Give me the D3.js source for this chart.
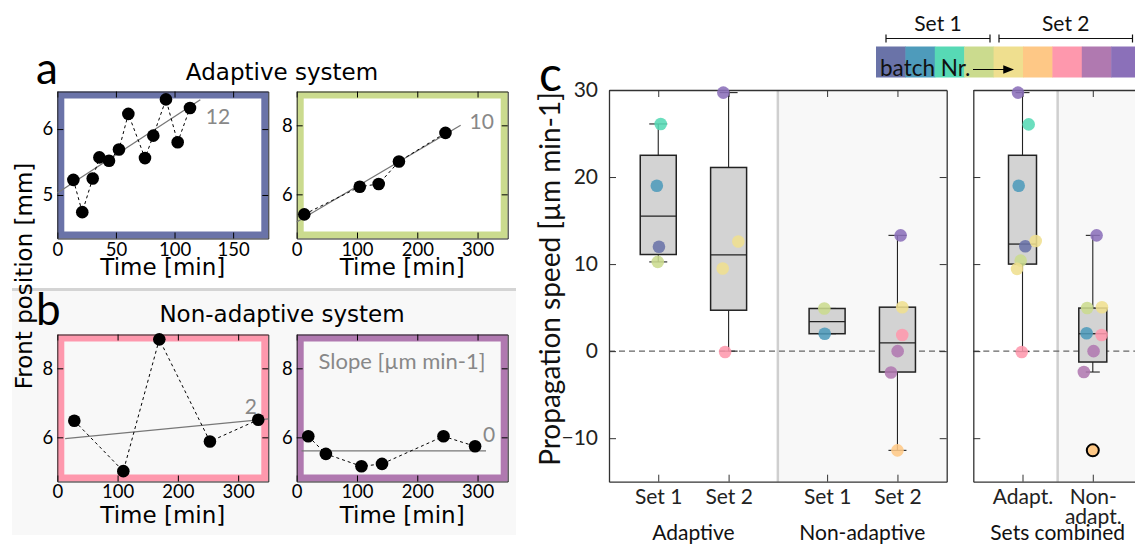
<!DOCTYPE html>
<html>
<head>
<meta charset="utf-8">
<script src="https://cdn.jsdelivr.net/npm/d3@7"></script>
<style>
body { margin:0; background:#fff; }
svg text { font-family: Lato, "Noto Sans", sans-serif; }
svg .dv { font-family: "DejaVu Sans", sans-serif; }
</style>
</head>
<body>
<div id="fig"></div>
<script>
// batch colours (batch Nr. 1..9)
var batchNr = [1,2,3,4,5,6,7,8,9]
var batchColors = ["#6a73a8","#4e9bbb","#57d9b5","#cbdb8e","#efdf8f","#fec886","#fe98ad","#b079b0","#8b70b9"]

// a / b : front position [mm] vs time [min]
var a1Time  = [13.7,21.3,30.2,35.9,44.1,52.6,60.6,74.8,81.9,92.7,102.7,113.2]
var a1Front = [5.23,4.74,5.25,5.57,5.52,5.69,6.23,5.56,5.90,6.45,5.80,6.32]
var a2Time  = [12.6,104.6,136,169.6,246.8]
var a2Front = [5.42,6.22,6.30,6.95,7.78]
var b1Time  = [28.2,109.5,169.2,253.2,333.3]
var b1Front = [6.48,5.02,8.84,5.88,6.51]
var b2Time  = [19.2,48.4,107.4,141.5,243.5,295.9]
var b2Front = [6.03,5.52,5.16,5.23,6.03,5.74]

// linear fits (intercept mm, slope mm/min, drawn time range) + slope labels
var fitIntercept = [5.03, 5.20, 5.938, 5.61]
var fitSlope     = [0.0116, 0.0103, 0.0017, 0.0]
var fitFrom      = [0, 0, 13, 8]
var fitTo        = [122, 272, 350, 314]
var slopeLabel   = ["12","10","2","0"]
var panelBatch   = [1,4,7,8]

// c : propagation speed boxplots
var groupLabel = ["Set 1","Set 2","Set 1","Set 2","Adapt.","Non-\nadapt."]
var boxLow  = [10.25, 0.0, 2.0, -11.4, -0.05, -2.4]
var boxQ1   = [11.1, 4.7, 2.0, -2.4, 10.0, -1.25]
var boxMed  = [15.5, 11.05, 3.4, 0.95, 12.3, 2.0]
var boxQ3   = [22.5, 21.1, 4.9, 5.05, 22.5, 4.95]
var boxHigh = [26.1, 29.7, 4.9, 13.3, 29.7, 13.3]

var speedGroup  = [0,0,0,0, 1,1,1,1, 2,2, 3,3,3,3,3,3, 4,4,4,4,4,4,4,4, 5,5,5,5,5,5,5,5]
var speedBatch  = [3,2,1,4, 9,5,5,7, 4,2, 5,7,8,8,9,6, 9,3,2,1,5,4,5,7, 9,4,5,2,7,8,8,6]
var speedValue  = [26.1,19.0,12.0,10.25, 29.7,12.6,9.5,-0.1, 4.9,2.0,
                   5.05,1.85,0.0,-2.45,13.3,-11.4,
                   29.7,26.05,19.0,12.05,12.65,10.4,9.45,-0.1,
                   13.3,4.95,5.05,2.05,1.85,0.0,-2.4,-11.4]
var speedJitter = [0.035,-0.02,0.01,-0.007, -0.075,0.138,-0.084,-0.05, -0.04,-0.034,
                   0.068,0.068,0.003,-0.092,0.045,0,
                   -0.064,0.088,-0.054,0.04,0.188,-0.026,-0.078,-0.011,
                   0.054,-0.08,0.13,-0.088,0.125,0.011,-0.127,0]
var outlierGroup = [5]
var outlierValue = [-11.4]

var svg = d3.select("#fig").append("svg").attr("width",1135).attr("height",544)

function batchColor(b){ return batchColors[batchNr.indexOf(b)] }

// ---------- panels a / b ----------
svg.append("rect").attr("x",12).attr("y",291).attr("width",504).attr("height",244).attr("fill","#f8f8f8")
svg.append("line").attr("x1",12).attr("x2",516).attr("y1",289.5).attr("y2",289.5)
  .attr("stroke","#d4d4d4").attr("stroke-width",3)

var traces = [
  {t:a1Time, v:a1Front, l:57.3, r:268.3, top:91.5, bot:238.5, xd:[0,180], yd:[4.34,6.57], xt:[0,50,100,150], yt:[5,6], lab:[137,6.19], pad:4, tl:36},
  {t:a2Time, v:a2Front, l:296.7, r:507.7, top:91.5, bot:238.5, xd:[0,350], yd:[4.72,8.98], xt:[0,100,200,300], yt:[6,8], lab:[307,8.1], pad:4, tl:36},
  {t:b1Time, v:b1Front, l:57.3, r:268.3, top:334.5, bot:481.5, xd:[0,350], yd:[4.72,8.98], xt:[0,100,200,300], yt:[6,8], lab:[321,6.89], pad:3, tl:41.5},
  {t:b2Time, v:b2Front, l:296.7, r:507.7, top:334.5, bot:481.5, xd:[0,350], yd:[4.72,8.98], xt:[0,100,200,300], yt:[6,8], lab:[319,6.07], pad:3, tl:41.5}
]

traces.forEach(function(p,i){
  var x = d3.scaleLinear().domain(p.xd).range([p.l,p.r])
  var y = d3.scaleLinear().domain(p.yd).range([p.bot,p.top])
  var g = svg.append("g")
  // coloured frame for the batch
  g.append("rect").attr("x",p.l+3.5).attr("y",p.top+3.5)
    .attr("width",p.r-p.l-7).attr("height",p.bot-p.top-7)
    .attr("fill","none").attr("stroke",batchColor(panelBatch[i])).attr("stroke-width",7)

  var axes = [
    [d3.axisBottom(x), "translate(0,"+p.bot+")", p.xt, true, p.pad],
    [d3.axisTop(x), "translate(0,"+p.top+")", p.xt, false, 4],
    [d3.axisLeft(y), "translate("+p.l+",0)", p.yt, true, 4],
    [d3.axisRight(y), "translate("+p.r+",0)", p.yt, false, 4]
  ]
  axes.forEach(function(a){
    var ax = a[0].tickValues(a[2]).tickSizeInner(-6).tickSizeOuter(0).tickPadding(a[4]).tickFormat(d3.format("d"))
    if(!a[3]) ax.tickFormat("")
    g.append("g").attr("transform",a[1]).call(ax)
      .attr("font-size",18.5).attr("font-family",null).attr("class","dv")
      .call(function(s){ s.select(".domain").attr("stroke","#222") ; s.selectAll("text").attr("fill","#000") })
  })

  // fitted line
  g.append("line")
    .attr("x1",x(fitFrom[i])).attr("y1",y(fitIntercept[i]+fitSlope[i]*fitFrom[i]))
    .attr("x2",x(fitTo[i])).attr("y2",y(fitIntercept[i]+fitSlope[i]*fitTo[i]))
    .attr("stroke","#777").attr("stroke-width",1.3)

  var pts = p.t.map(function(d,k){ return [d,p.v[k]] })
  g.append("path").datum(pts)
    .attr("d", d3.line().x(function(d){return x(d[0])}).y(function(d){return y(d[1])}))
    .attr("fill","none").attr("stroke","#000").attr("stroke-width",1).attr("stroke-dasharray","3,3")
  g.selectAll("circle").data(pts).enter().append("circle")
    .attr("cx",function(d){return x(d[0])}).attr("cy",function(d){return y(d[1])})
    .attr("r",6.3).attr("fill","#000")

  g.append("text").attr("x",x(p.lab[0])).attr("y",y(p.lab[1])).attr("dy","0.36em")
    .attr("text-anchor","middle").attr("font-size",21).attr("fill","#888").text(slopeLabel[i])

  // x label
  g.append("text").attr("class","dv").attr("x",(p.l+p.r)/2).attr("y",p.bot+p.tl).attr("text-anchor","middle")
    .attr("font-size",23).text("Time [min]")
})

svg.append("text").attr("x",402).attr("y",369).attr("text-anchor","middle")
  .attr("font-size",22).attr("fill","#888").text("Slope [µm min-1]")

svg.append("text").attr("class","dv").attr("x",282).attr("y",80).attr("text-anchor","middle").attr("font-size",23).text("Adaptive system")
svg.append("text").attr("class","dv").attr("x",282).attr("y",322).attr("text-anchor","middle").attr("font-size",23).text("Non-adaptive system")
svg.append("text").attr("x",36).attr("y",84).attr("font-size",44).text("a")
svg.append("text").attr("x",36).attr("y",325).attr("font-size",44).text("b")
svg.append("text").attr("class","dv").attr("transform","translate(32,276) rotate(-90)").attr("text-anchor","middle")
  .attr("font-size",23).text("Front position [mm]")

// ---------- panel c ----------
var yS = d3.scaleLinear().domain([-15,30]).range([481.7,90])
var groupPos  = [1,2,3.4,4.4,1,2]
var groupAxis = [0,0,0,0,1,1]
var cAxes = [
  {l:609, r:946.7, dom:[0.3,5.1], sep:2.7, boxW:36, yLabels:true},
  {l:973.3, r:1142, dom:[0.3,2.7], sep:1.5, boxW:28, yLabels:false}
]
cAxes.forEach(function(c){ c.x = d3.scaleLinear().domain(c.dom).range([c.l,c.r]) })

cAxes.forEach(function(c,ai){
  var g = svg.append("g")
  var xs = c.x(c.sep)
  g.append("rect").attr("x",xs).attr("y",yS(30)).attr("width",c.r-xs).attr("height",yS(-15)-yS(30)).attr("fill","#f8f8f8")
  g.append("line").attr("x1",xs).attr("x2",xs).attr("y1",yS(30)).attr("y2",yS(-15))
    .attr("stroke","#cfcfcf").attr("stroke-width",2.5)
  g.append("line").attr("x1",c.l).attr("x2",c.r).attr("y1",yS(0)).attr("y2",yS(0))
    .attr("stroke","#666").attr("stroke-width",1.2).attr("stroke-dasharray","6,4")

  var idx = groupAxis.map(function(a,i){return a==ai ? i : -1}).filter(function(i){return i>=0})
  var ticks = idx.map(function(i){return groupPos[i]})

  var yl = d3.axisLeft(yS).tickValues([-10,0,10,20,30]).tickSizeInner(-7).tickSizeOuter(0).tickPadding(11)
  if(!c.yLabels) yl.tickFormat("")
  var yr = d3.axisRight(yS).tickValues([-10,0,10,20,30]).tickSizeInner(-7).tickSizeOuter(0).tickFormat("")
  var xb = d3.axisBottom(c.x).tickValues(ticks).tickSizeInner(-7).tickSizeOuter(0).tickPadding(7)
    .tickFormat(function(d){ return groupLabel[idx[ticks.indexOf(d)]] })
  var xt = d3.axisTop(c.x).tickValues(ticks).tickSizeInner(-7).tickSizeOuter(0).tickFormat("")

  ;[[yl,"translate("+c.l+",0)"],[yr,"translate("+c.r+",0)"],[xb,"translate(0,"+yS(-15)+")"],[xt,"translate(0,"+yS(30)+")"]]
  .forEach(function(a){
    g.append("g").attr("transform",a[1]).call(a[0])
      .attr("font-size",21).attr("font-family",null)
      .call(function(s){
        s.select(".domain").attr("stroke","#333").attr("stroke-width",1.3)
        s.selectAll(".tick line").attr("stroke","#333")
        s.selectAll("text").attr("fill","#222").each(function(){
          var t = d3.select(this), lines = t.text().split("\n")
          if(lines.length < 2) return
          t.text(null).attr("dy",null)
          lines.forEach(function(l,k){ t.append("tspan").attr("x",0).attr("dy", k==0 ? "0.71em" : "0.95em").text(l) })
        })
      })
  })

  // boxes
  idx.forEach(function(i){
    var cx = c.x(groupPos[i]), w = c.boxW
    var bg = g.append("g").attr("stroke","#222")
    bg.append("line").attr("x1",cx).attr("x2",cx).attr("y1",yS(boxHigh[i])).attr("y2",yS(boxQ3[i])).attr("stroke-width",1.1)
    bg.append("line").attr("x1",cx).attr("x2",cx).attr("y1",yS(boxQ1[i])).attr("y2",yS(boxLow[i])).attr("stroke-width",1.1)
    bg.append("line").attr("x1",cx-w/4).attr("x2",cx+w/4).attr("y1",yS(boxHigh[i])).attr("y2",yS(boxHigh[i])).attr("stroke-width",1.1)
    bg.append("line").attr("x1",cx-w/4).attr("x2",cx+w/4).attr("y1",yS(boxLow[i])).attr("y2",yS(boxLow[i])).attr("stroke-width",1.1)
    bg.append("rect").attr("x",cx-w/2).attr("y",yS(boxQ3[i])).attr("width",w).attr("height",yS(boxQ1[i])-yS(boxQ3[i]))
      .attr("fill","#d3d3d3").attr("stroke-width",1.5)
    bg.append("line").attr("x1",cx-w/2).attr("x2",cx+w/2).attr("y1",yS(boxMed[i])).attr("y2",yS(boxMed[i])).attr("stroke-width",1.3)
  })

  // batch points
  speedValue.forEach(function(v,k){
    var gi = speedGroup[k]
    if(groupAxis[gi] != ai) return
    g.append("circle").attr("cx",c.x(groupPos[gi]+speedJitter[k])).attr("cy",yS(v)).attr("r",6.3)
      .attr("fill",batchColor(speedBatch[k])).attr("fill-opacity",0.88)
  })
  outlierGroup.forEach(function(gi,k){
    if(groupAxis[gi] != ai) return
    g.append("circle").attr("cx",c.x(groupPos[gi])).attr("cy",yS(outlierValue[k])).attr("r",6)
      .attr("fill",batchColor(6)).attr("stroke","#000").attr("stroke-width",2)
  })
})

// group captions
var grpCap = [["Adaptive",0,1.5],["Non-adaptive",0,3.9],["Sets combined",1,1.5]]
grpCap.forEach(function(d){
  svg.append("text").attr("x",cAxes[d[1]].x(d[2])).attr("y",540).attr("text-anchor","middle")
    .attr("font-size",21).attr("fill","#111").text(d[0])
})

svg.append("text").attr("transform","translate(560,279) rotate(-90)").attr("text-anchor","middle")
  .attr("font-size",28).attr("fill","#111").text("Propagation speed [µm min-1]")
svg.append("text").attr("x",539).attr("y",91).attr("font-size",48).text("c")

// batch colour bar
var cb = d3.scaleBand().domain(batchNr).range([876,1140.6])
svg.selectAll(".cb").data(batchNr).enter().append("rect")
  .attr("x",function(d){return cb(d)}).attr("y",46.5).attr("width",cb.bandwidth()+0.5).attr("height",31)
  .attr("fill",function(d){return batchColor(d)})
svg.append("text").attr("x",880).attr("y",76).attr("font-size",22.5).attr("fill","#111").text("batch Nr.")
svg.append("defs").append("marker").attr("id","arr").attr("viewBox","0 0 10 10").attr("refX",9).attr("refY",5)
  .attr("markerWidth",9).attr("markerHeight",9).attr("orient","auto")
  .append("path").attr("d","M0,1 L10,5 L0,9 z").attr("fill","#000")
svg.append("line").attr("x1",973).attr("x2",1013).attr("y1",69.5).attr("y2",69.5)
  .attr("stroke","#000").attr("stroke-width",1.2).attr("marker-end","url(#arr)")

var sets = [["Set 1",886,990],["Set 2",999,1132.5]]
sets.forEach(function(s){
  var g = svg.append("g").attr("stroke","#111").attr("stroke-width",1.2)
  g.append("line").attr("x1",s[1]).attr("x2",s[2]).attr("y1",38.5).attr("y2",38.5)
  g.append("line").attr("x1",s[1]).attr("x2",s[1]).attr("y1",34.5).attr("y2",42.5)
  g.append("line").attr("x1",s[2]).attr("x2",s[2]).attr("y1",34.5).attr("y2",42.5)
  svg.append("text").attr("x",(s[1]+s[2])/2).attr("y",31).attr("text-anchor","middle")
    .attr("font-size",21).attr("fill","#111").text(s[0])
})
</script>
</body>
</html>
